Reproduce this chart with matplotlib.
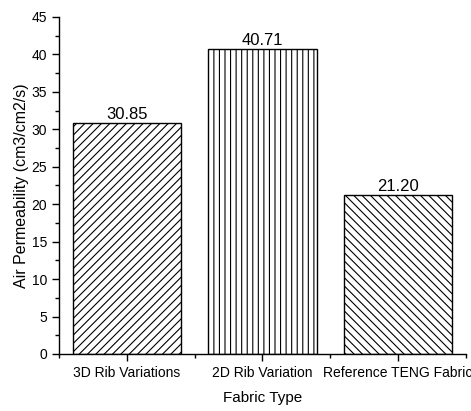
import matplotlib.pyplot as plt
from matplotlib.ticker import MultipleLocator, FixedLocator

plt.rcParams['font.family'] = ['Liberation Sans', 'DejaVu Sans']
plt.rcParams['hatch.linewidth'] = 0.8

categories = ['3D Rib Variations', '2D Rib Variation', 'Reference TENG Fabric']
permeability = [30.85, 40.71, 21.20]
hatches = ['////', '|||', '\\\\\\\\']

fig = plt.figure(figsize=(4.71, 4.11), dpi=100)
ax = fig.add_axes([0.1253, 0.1387, 0.8635, 0.82])

x = list(range(len(categories)))
bars = ax.bar(x, permeability, width=0.8, color='white', edgecolor='black',
              linewidth=1.0)
for b, h in zip(bars, hatches):
    b.set_hatch(h)

# value labels sit just above each bar
for xi, v in zip(x, permeability):
    ax.annotate(f'{v:.2f}', (xi, v), xytext=(0, 1), textcoords='offset points',
                ha='center', va='bottom', fontsize=12)

ax.set_xlim(-0.5, 2.5)
ax.set_ylim(0, 45)
ax.set_xticks(x)
ax.set_xticklabels(categories, fontsize=10)
ax.xaxis.set_minor_locator(FixedLocator([-0.5, 0.5, 1.5, 2.5]))
ax.yaxis.set_major_locator(MultipleLocator(5))
ax.yaxis.set_minor_locator(MultipleLocator(2.5))
ax.tick_params(axis='y', labelsize=10)
ax.tick_params(which='major', direction='out', length=5, width=1)
ax.tick_params(which='minor', direction='out', length=3, width=1)

ax.set_xlabel('Fabric Type', fontsize=11, labelpad=8)
ax.set_ylabel('Air Permeability (cm3/cm2/s)', fontsize=11.5, labelpad=2)

for side in ['top', 'right']:
    ax.spines[side].set_visible(False)
for side in ['left', 'bottom']:
    ax.spines[side].set_linewidth(1.0)

fig.savefig('out.png', dpi=100)
